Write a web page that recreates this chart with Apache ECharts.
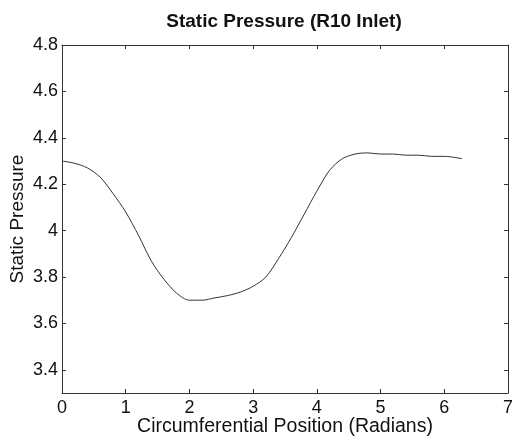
<!DOCTYPE html>
<html>
<head>
<meta charset="utf-8">
<script src="https://cdn.jsdelivr.net/npm/echarts@6/dist/echarts.min.js"></script>
<style>html,body{margin:0;padding:0;background:#fff}#c{width:512px;height:440px}</style>
</head>
<body>
<div id="c"></div>
<script>
const titleText = 'Static Pressure (R10 Inlet)';
const xName = 'Circumferential Position (Radians)';
const yName = 'Static Pressure';
const positions = [0, 0.2, 0.4, 0.6, 0.8, 1.0, 1.2, 1.4, 1.6, 1.8, 2.0, 2.2, 2.4, 2.6, 2.8, 3.0, 3.2, 3.4, 3.6, 3.8, 4.0, 4.2, 4.4, 4.6, 4.8, 5.0, 5.2, 5.4, 5.6, 5.8, 6.0, 6.28];
const pressure = [4.30, 4.29, 4.27, 4.23, 4.16, 4.08, 3.98, 3.87, 3.79, 3.73, 3.70, 3.70, 3.71, 3.72, 3.735, 3.76, 3.80, 3.88, 3.97, 4.07, 4.17, 4.26, 4.31, 4.33, 4.335, 4.33, 4.33, 4.325, 4.325, 4.32, 4.32, 4.31];
const xTicks = [0, 1, 2, 3, 4, 5, 6, 7];
const yTicks = [3.4, 3.6, 3.8, 4, 4.2, 4.4, 4.6, 4.8];

const font = 'Liberation Sans, Arial, Helvetica, sans-serif';
const chart = echarts.init(document.getElementById('c'));
const lineStyle = {color: '#333', width: 1};
chart.setOption({
  animation: false,
  backgroundColor: '#fff',
  title: {text: titleText, left: 279, top: 7, textAlign: 'center',
    textStyle: {fontFamily: font, fontWeight: 'bold', fontSize: 19, color: '#111'}},
  grid: {left: 62, right: 4, top: 45, bottom: 47, containLabel: false, outerBoundsMode: 'none'},
  xAxis: [{
    type: 'value', min: 0, max: 7, interval: 1, position: 'bottom',
    name: xName, nameLocation: 'middle', nameGap: 24, nameMoveOverlap: false,
    nameTextStyle: {fontFamily: font, fontSize: 19.5, color: '#111'},
    axisLine: {show: true, lineStyle: lineStyle},
    axisTick: {show: true, inside: true, length: 4, lineStyle: lineStyle},
    axisLabel: {fontFamily: font, fontSize: 18, color: '#111', margin: 6,
      formatter: v => xTicks.includes(v) ? String(v) : ''},
    splitLine: {show: false}
  }, {
    type: 'value', min: 0, max: 7, interval: 1, position: 'top',
    axisLine: {show: true, lineStyle: lineStyle},
    axisTick: {show: true, inside: true, length: 4, lineStyle: lineStyle},
    axisLabel: {show: false}, splitLine: {show: false}
  }],
  yAxis: [{
    type: 'value', min: 3.3, max: 4.8, position: 'left',
    name: yName, nameLocation: 'middle', nameGap: 35, nameMoveOverlap: false,
    nameTextStyle: {fontFamily: font, fontSize: 19, color: '#111'},
    axisLine: {show: true, onZero: false, lineStyle: lineStyle},
    axisTick: {show: true, inside: true, length: 4, lineStyle: lineStyle,
      customValues: yTicks},
    axisLabel: {fontFamily: font, fontSize: 18, color: '#111', margin: 4,
      customValues: yTicks, formatter: v => String(+v.toFixed(1))},
    splitLine: {show: false}
  }, {
    type: 'value', min: 3.3, max: 4.8, position: 'right',
    axisLine: {show: true, onZero: false, lineStyle: lineStyle},
    axisTick: {show: true, inside: true, length: 4, lineStyle: lineStyle,
      customValues: yTicks},
    axisLabel: {show: false}, splitLine: {show: false}
  }],
  series: [{
    type: 'line', xAxisIndex: 0, yAxisIndex: 0,
    data: positions.map((x, i) => [x, pressure[i]]),
    smooth: 0.3, showSymbol: false, symbol: 'none',
    lineStyle: {color: '#333', width: 1}
  }]
});
</script>
</body>
</html>
